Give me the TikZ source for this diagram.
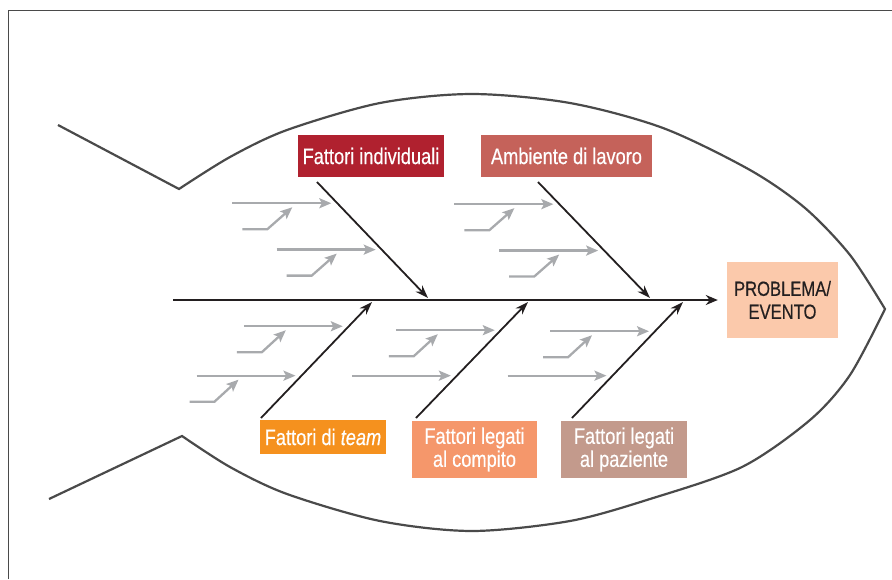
\documentclass[tikz,border=0pt]{standalone}
\usepackage{fontspec}
\setmainfont{Liberation Sans}[FakeStretch=0.81, FakeBold=0.4]
\usetikzlibrary{arrows.meta,calc}

\definecolor{indivred}{HTML}{B0212F}
\definecolor{ambred}{HTML}{C5625A}
\definecolor{teamorange}{HTML}{F5911E}
\definecolor{compsalmon}{HTML}{F5976B}
\definecolor{pazrose}{HTML}{C39A8C}
\definecolor{probpeach}{HTML}{FBC9AB}
\definecolor{ribgray}{HTML}{A8AAAD}
\definecolor{inkblack}{HTML}{231F20}
\definecolor{bodygray}{HTML}{4A4A4A}

\begin{document}
\begin{tikzpicture}[
    x=1pt, y=-1pt,
    cause/.style={rectangle, inner sep=0pt, text=white, align=center, font=\fontsize{22.5}{23}\selectfont},
    effect/.style={rectangle, inner sep=0pt, fill=probpeach, text=inkblack, align=center,
        minimum width=111, minimum height=76, font=\fontsize{20.5}{23}\selectfont},
    branch/.style={-{Stealth[length=13pt, width=9pt]}, draw=inkblack, line width=1.8pt},
    spine/.style={-{Stealth[length=12pt, width=10pt]}, draw=inkblack, line width=2.2pt},
    rib/.style={-{Stealth[length=12pt, width=10pt, inset=2.5pt]}, draw=ribgray, line width=2.3pt},
    body/.style={draw=bodygray, line width=2.2pt},
    frame/.style={draw=bodygray, line width=1pt}
]
\useasboundingbox (0,0) rectangle (892,579);

% Frame
\draw[frame] (8,579) |- (892,10);

% Fish outline: tail, back, head, belly
\draw[body] (58,125) -- plot[smooth] coordinates {(179,189) (230,157) (287,130) (380,103) (472,94)
    (570,103) (663,128) (750,170) (805,208) (850,255) (885,309)}
  -- plot[smooth] coordinates {(885,309) (850,375) (810,420) (742,467) (650,499) (570,521)
    (472,531) (380,521) (287,494) (230,467) (182,436)} -- (49,499);

% Causes and effect
\node[cause, fill=indivred, minimum width=146, minimum height=42] (indiv) at (371,156) {Fattori individuali};
\node[cause, fill=ambred, minimum width=171, minimum height=42] (amb) at (566.5,156) {Ambiente di lavoro};
\node[cause, fill=teamorange, minimum width=126, minimum height=34] (team) at (323,437) {Fattori di \textit{team}};
\node[cause, fill=compsalmon, minimum width=125, minimum height=57] (comp) at (474.5,449.5) {Fattori legati\\al compito};
\node[cause, fill=pazrose, minimum width=126, minimum height=57] (paz) at (624,449.5) {Fattori legati\\al paziente};
\node[effect] (prob) at (782.5,300) {PROBLEMA/\\EVENTO};

% Backbone
\coordinate (tail) at (173,300);
\draw[spine] (tail) -- (prob) [shorten >=9pt];

% Main bones
\coordinate (indiv-t) at (317,182);  \coordinate (indiv-h) at (428,298);
\coordinate (amb-t) at (538,182);    \coordinate (amb-h) at (650,298);
\coordinate (team-t) at (261,418);   \coordinate (team-h) at (372,302);
\coordinate (comp-t) at (416,418);   \coordinate (comp-h) at (528,302);
\coordinate (paz-t) at (572,418);    \coordinate (paz-h) at (683,302);
\foreach \b in {indiv,amb,team,comp,paz}
  \draw[branch] (\b-t) -- (\b-h);

% Minor bones
\foreach \b/\f in {indiv/0.183, indiv/0.583, amb/0.191, amb/0.591, team/0.791, team/0.365,
    comp/0.757, comp/0.365, paz/0.748, paz/0.365}
  \draw[rib] ($(\b-t)!\f!(\b-h)+(-105,0)$) -- ($(\b-t)!\f!(\b-h)+(-6,0)$);
\foreach \b/\f/\xa/\xb in {indiv/0.183/-95/-45, indiv/0.583/-95/-45, amb/0.191/-95/-45, amb/0.591/-95/-45,
    team/0.791/-112/-63, team/0.365/-112/-63, comp/0.757/-112/-63, paz/0.748/-112/-63}
  \draw[rib] ($(\b-t)!\f!(\b-h)+(\xa,26)$) -- ++(25,0) -- ($(\b-t)!\f!(\b-h)+(\xb,4)$);

\end{tikzpicture}
\end{document}
